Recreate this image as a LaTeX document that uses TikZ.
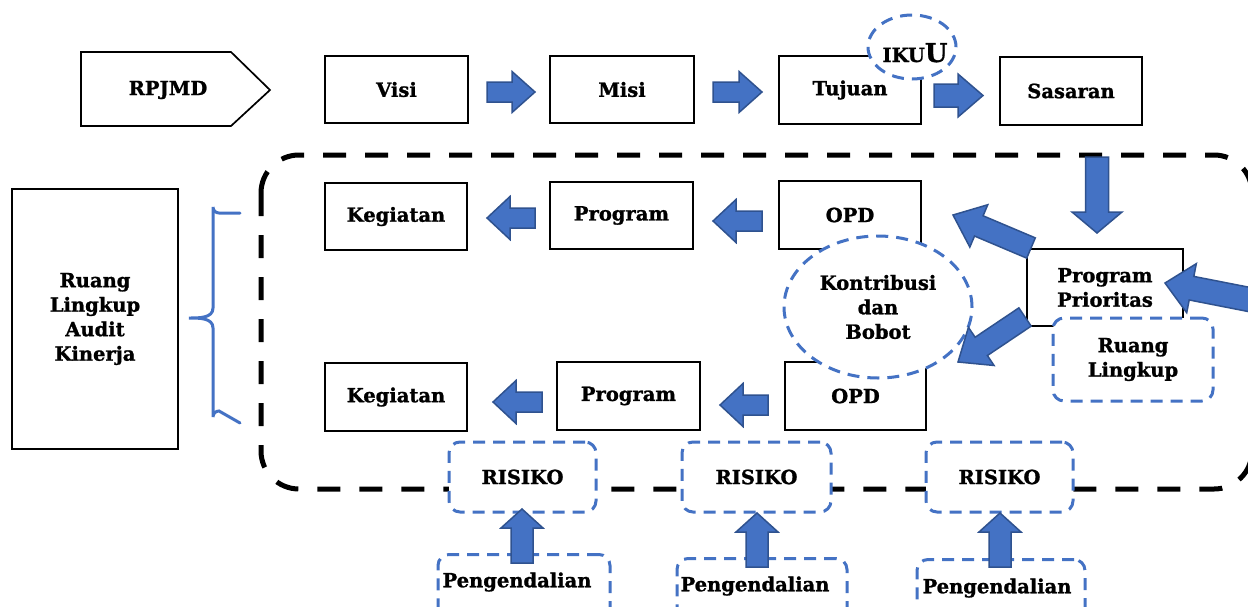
\documentclass[tikz,border=0pt]{standalone}
\usepackage{fontspec}
\setmainfont{DejaVu Serif}[BoldFeatures={FakeBold=1.2}]
\usetikzlibrary{calc,shapes.geometric}

\definecolor{arrfill}{HTML}{4472C4}
\definecolor{arrline}{HTML}{2F528F}
\definecolor{dashblue}{HTML}{4472C4}

\tikzset{
  lbl/.style={font=\fontsize{19.5pt}{24.5pt}\selectfont\bfseries, align=center, text=black},
  box/.style={lbl, draw=black, line width=2.2pt, fill=white, inner sep=0pt},
  bluebox/.style={lbl, draw=dashblue, line width=3pt, fill=white, inner sep=0pt,
    rounded corners=11pt, dash pattern=on 12pt off 8pt},
  blueoval/.style={lbl, ellipse, draw=dashblue, line width=3pt, fill=white, inner sep=0pt,
    dash pattern=on 12pt off 8pt},
  blockarrow/.style={fill=arrfill, draw=arrline, line width=1.5pt, line join=miter},
  scopeline/.style={draw=black, line width=5pt, dash pattern=on 23pt off 19pt, rounded corners=38pt},
  bracket/.style={draw=dashblue, line width=3pt, line cap=round},
}

% block arrow from a tail coordinate to a tip coordinate:
% #3 shaft width, #4 head width, #5 head length (all in pt)
\newcommand\blockarrow[5]{%
  \pgfpointanchor{#1}{center}\pgfgetlastxy{\arrAx}{\arrAy}%
  \pgfpointanchor{#2}{center}\pgfgetlastxy{\arrBx}{\arrBy}%
  \pgfmathsetmacro\arrDx{\arrBx-\arrAx}%
  \pgfmathsetmacro\arrDy{\arrBy-\arrAy}%
  \pgfmathsetmacro\arrAng{atan2(\arrDy,\arrDx)}%
  \pgfmathsetmacro\arrLen{veclen(\arrDx,\arrDy)}%
  \pgfmathsetmacro\arrNeck{\arrLen-#5}%
  \pgfmathsetmacro\arrB{#3/2}%
  \pgfmathsetmacro\arrH{#4/2}%
  \begin{scope}[shift={(#1)},rotate=\arrAng]
    \draw[blockarrow] (0pt,-\arrB pt) -- (\arrNeck pt,-\arrB pt) -- (\arrNeck pt,-\arrH pt)
      -- (\arrLen pt,0pt) -- (\arrNeck pt,\arrH pt) -- (\arrNeck pt,\arrB pt) -- (0pt,\arrB pt) -- cycle;
  \end{scope}}

\begin{document}
\begin{tikzpicture}[x=1pt,y=-1pt]
\useasboundingbox (0,0) rectangle (1248,606);

% scope of the audit: dashed rounded frame
\draw[scopeline] (261,155) rectangle (1252,489);

% top row
\draw[draw=black, line width=1.7pt, fill=white] (81,52) -- (231,52) -- (270,90) -- (231,126) -- (81,126) -- cycle;
\node[lbl] (rpjmd) at (168,90) {RPJMD};
\node[box, minimum width=143pt, minimum height=67pt] (visi) at (396.5,89.5) {Visi};
\node[box, minimum width=144pt, minimum height=67pt] (misi) at (622,89.5) {Misi};
\node[box, minimum width=142pt, minimum height=68pt] (tujuan) at (850,90) {Tujuan};
\node[box, minimum width=142pt, minimum height=68pt] (sasaran) at (1071,91) {Sasaran};
\node[blueoval, minimum width=88pt, minimum height=64pt] (iku) at (912,47) {};
\node[lbl, anchor=base] (ikutext) at (915,62) {\fontsize{19.5pt}{20pt}\selectfont IKU\fontsize{26pt}{26pt}\selectfont U};

% left: scope label and bracket
\node[box, minimum width=166pt, minimum height=260pt] (audit) at (95,319) {Ruang\\Lingkup\\Audit\\Kinerja};
\draw[bracket] (240,213) -- (219,213) arc[start angle=90, end angle=180, radius=6] -- (213,308)
  to[out=-90,in=0] (189,318) to[out=0,in=90] (213,328) -- (213,417)
  arc[start angle=180, end angle=270, radius=6] -- (240,423);

% middle rows
\node[box, minimum width=142pt, minimum height=67pt] (keg1) at (396,216.5) {Kegiatan};
\node[box, minimum width=143pt, minimum height=67pt] (prog1) at (621.5,215.5) {Program};
\node[box, minimum width=142pt, minimum height=68pt] (opd1) at (850,215) {OPD};
\node[box, minimum width=142pt, minimum height=68pt] (keg2) at (396,397) {Kegiatan};
\node[box, minimum width=143pt, minimum height=68pt] (prog2) at (628.5,396) {Program};
\node[box, minimum width=141pt, minimum height=68pt] (opd2) at (855.5,396) {OPD};
\node[blueoval, minimum width=188pt, minimum height=142pt] (kontribusi) at (878,307) {Kontribusi\\dan\\Bobot};
\node[box, minimum width=156pt, minimum height=77pt] (pp) at (1105,287.5) {Program\\Prioritas};
\node[bluebox, minimum width=160pt, minimum height=83pt] (rl) at (1133,359.5) {Ruang\\Lingkup};

% risks and controls
\node[bluebox, minimum width=147pt, minimum height=70pt] (risiko1) at (522.5,477) {RISIKO};
\node[bluebox, minimum width=149pt, minimum height=70pt] (risiko2) at (756.5,477) {RISIKO};
\node[bluebox, minimum width=147pt, minimum height=70pt] (risiko3) at (999.5,477) {RISIKO};
\node[bluebox, minimum width=172pt, minimum height=90pt, anchor=north] (peng1) at (524,553) {};
\node[bluebox, minimum width=170pt, minimum height=90pt, anchor=north] (peng2) at (762,557) {};
\node[bluebox, minimum width=168pt, minimum height=90pt, anchor=north] (peng3) at (1001,558) {};
\node[lbl] (peng1text) at (517,582) {Pengendalian};
\node[lbl] (peng2text) at (755,586) {Pengendalian};
\node[lbl] (peng3text) at (997,588) {Pengendalian};

% arrow end points
\coordinate (a1s) at (487,92);   \coordinate (a1e) at (535,92);
\coordinate (a2s) at (713,92);   \coordinate (a2e) at (762,92);
\coordinate (a3s) at (934,95.5); \coordinate (a3e) at (983,95.5);
\coordinate (b1s) at (535,218);  \coordinate (b1e) at (487,218);
\coordinate (b2s) at (762,221);  \coordinate (b2e) at (713,221);
\coordinate (c1s) at (542,402);  \coordinate (c1e) at (493,402);
\coordinate (c2s) at (768,405);  \coordinate (c2e) at (720,405);
\coordinate (ds) at (1097,157);  \coordinate (de) at (1097,233);
\coordinate (us) at (1031,248);  \coordinate (ue) at (953,215);
\coordinate (ls) at (1025,317);  \coordinate (le) at (958,362);
\coordinate (rs) at (1262,302);  \coordinate (re) at (1165,283);
\coordinate (p1s) at (522,563);  \coordinate (p1e) at (522,509);
\coordinate (p2s) at (757,567);  \coordinate (p2e) at (757,513);
\coordinate (p3s) at (1000,567); \coordinate (p3e) at (1000,513);

% block arrows
\blockarrow{a1s}{a1e}{20}{41}{23}
\blockarrow{a2s}{a2e}{20}{41}{23}
\blockarrow{a3s}{a3e}{23}{43}{25}
\blockarrow{b1s}{b1e}{20}{43}{23}
\blockarrow{b2s}{b2e}{20}{43}{23}
\blockarrow{c1s}{c1e}{20}{43}{23}
\blockarrow{c2s}{c2e}{20}{43}{23}
\blockarrow{ds}{de}{23}{50}{21}
\blockarrow{us}{ue}{22}{46}{28}
\blockarrow{ls}{le}{22}{46}{28}
\blockarrow{rs}{re}{24}{50}{27}
\blockarrow{p1s}{p1e}{22}{42}{19}
\blockarrow{p2s}{p2e}{22}{42}{19}
\blockarrow{p3s}{p3e}{22}{42}{19}
\end{tikzpicture}
\end{document}
